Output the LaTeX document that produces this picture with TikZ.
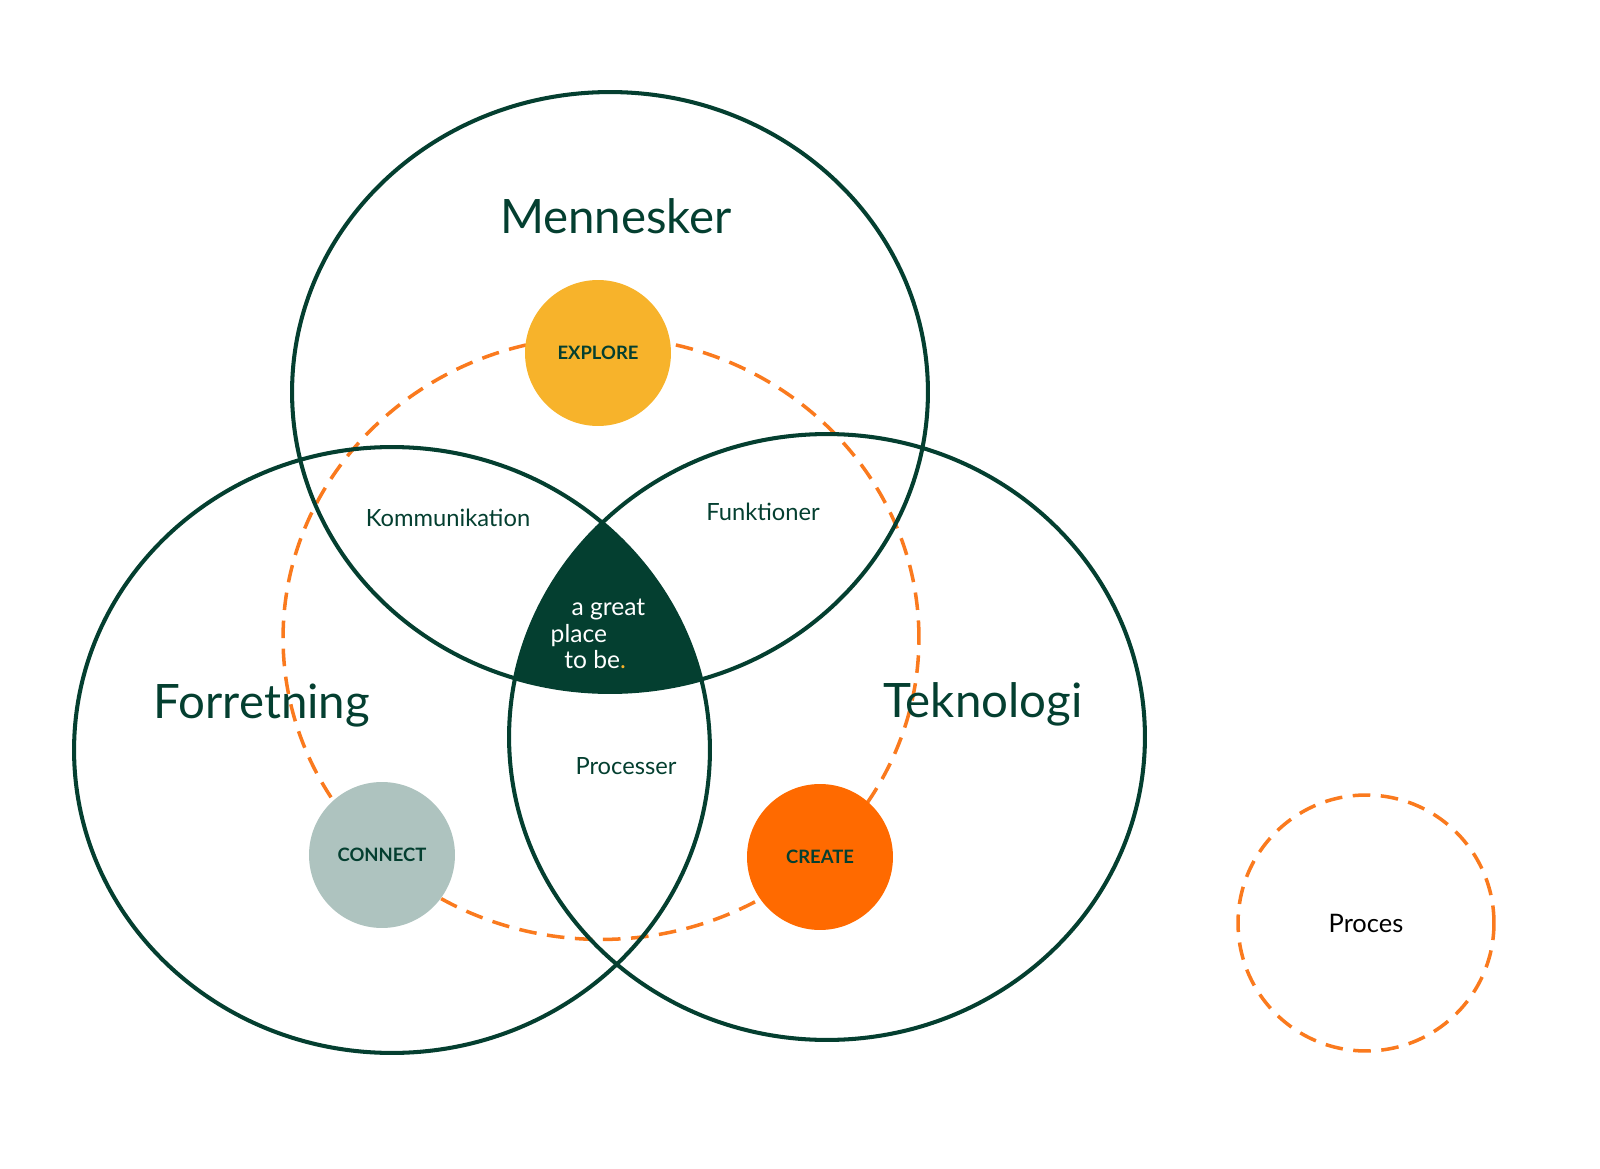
\documentclass[tikz,border=0pt]{standalone}
\usepackage{fontspec}
\setmainfont{Lato}
\usetikzlibrary{shapes.geometric}
\definecolor{skov}{HTML}{043F30}
\definecolor{brand}{HTML}{FA7A1E}
\definecolor{gul}{HTML}{F7B32B}
\definecolor{graa}{HTML}{AEC3BF}
\definecolor{rust}{HTML}{FF6A00}
\tikzset{
  ring/.style={ellipse,draw=skov,line width=2.3pt,minimum width=12.72cm,inner sep=0pt},
  proces/.style={draw=brand,line width=2pt,dash pattern=on 10pt off 6pt},
  fase/.style={circle,minimum size=2.92cm,inner sep=0pt,text=skov,font=\bfseries\fontsize{10.5}{12}\selectfont},
  titel/.style={text=skov,font=\fontsize{27}{30}\selectfont},
  felt/.style={text=skov,font=\fontsize{13.5}{16}\selectfont}
}
\begin{document}
\begin{tikzpicture}[x=0.02cm,y=-0.02cm]
\useasboundingbox (0,0) rectangle (1600,1169);
% proces-ringen
\node[ellipse,proces,minimum width=12.72cm,minimum height=12.06cm,inner sep=0pt] (ring) at (601,638) {};
% de tre felter
\begin{scope}
\clip (610,392) ellipse [x radius=318,y radius=300];
\clip (392,750) ellipse [x radius=318,y radius=303];
\fill[skov] (827,737) ellipse [x radius=318,y radius=303];
\end{scope}
\node[ring,minimum height=12cm] (mennesker) at (610,392) {};
\node[ring,minimum height=12.12cm] (forretning) at (392,750) {};
\node[ring,minimum height=12.12cm] (teknologi) at (827,737) {};
% faser
\node[fase,fill=gul] (explore) at (598,353) {EXPLORE};
\node[fase,fill=graa] (connect) at (382,855) {CONNECT};
\node[fase,fill=rust] (create) at (820,857) {CREATE};
% tekster
\node[titel] (tm) at (616,216) {Mennesker};
\node[titel] (tf) at (262,706) {Forretning};
\node[titel] (tt) at (983,704) {Teknologi};
\node[felt] (kom) at (448,518) {Kommunikation};
\node[felt] (fun) at (763,512) {Funktioner};
\node[felt] (pro) at (626,766) {Processer};
\node[text=white,font=\fontsize{14}{15}\selectfont,align=left] (agp) at (598,634)
  {\hspace*{0.85em}a great\\place\\\hspace*{0.55em}to be\textcolor{gul}{.}};
% forklaring
\node[circle,proces,minimum size=5.12cm] (legende) at (1366,923) {};
\node[text=black,font=\fontsize{14.5}{16}\selectfont] (lt) at (legende) {Proces};
\end{tikzpicture}
\end{document}
